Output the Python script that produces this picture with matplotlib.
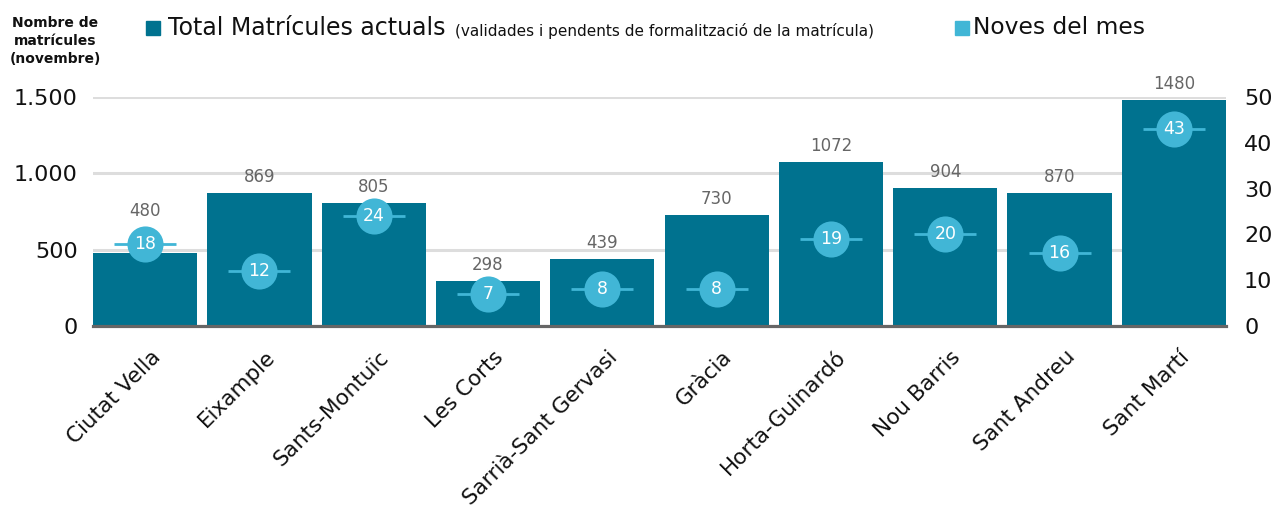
import matplotlib
matplotlib.use("Agg")
import matplotlib.pyplot as plt
import matplotlib.transforms as mtransforms
from matplotlib.lines import Line2D

plt.rcParams['font.family'] = ['DejaVu Sans']

districtes = ['Ciutat Vella', 'Eixample', 'Sants-Montuïc', 'Les Corts',
              'Sarrià-Sant Gervasi', 'Gràcia', 'Horta-Guinardó', 'Nou Barris',
              'Sant Andreu', 'Sant Martí']
total_matricules = [480, 869, 805, 298, 439, 730, 1072, 904, 870, 1480]
noves_mes = [18, 12, 24, 7, 8, 8, 19, 20, 16, 43]
left_ticks = [0, 500, 1000, 1500]
left_labels = ['0', '500', '1.000', '1.500']
right_ticks = [0, 10, 20, 30, 40, 50]

BAR = '#00728f'
DOT = '#41b6d6'

W, H = 1276, 516
fig = plt.figure(figsize=(W / 100, H / 100), dpi=100)
ax = fig.add_axes([93 / W, 1 - 326 / H, (1226 - 93) / W, (326 - 97) / H])

x = list(range(len(districtes)))
bw = 104 / 114
ax.bar(x, total_matricules, width=bw, color=BAR, zorder=2)
ax.set_xlim(-bw / 2, len(x) - 1 + bw / 2)
ax.set_ylim(0, 1500)

for s in ax.spines.values():
    s.set_visible(False)
ax.set_yticks(left_ticks)
ax.set_yticklabels(left_labels)
ax.tick_params(axis='y', length=0, pad=11, labelsize=16, labelcolor='#111111')
ax.grid(axis='y', color='#dddddd', linewidth=2.2, zorder=0)
ax.axhline(0, color='#666666', linewidth=2.3, zorder=3, clip_on=False)
ax.set_axisbelow(True)

ax.set_xticks(x)
ax.set_xticklabels(districtes, rotation=45, ha='right', va='top',
                   rotation_mode='anchor', fontsize=15.5, color='#111111')
ax.tick_params(axis='x', length=0, pad=15)
shift = mtransforms.ScaledTranslation(5 / 100, 0, fig.dpi_scale_trans)
for lab in ax.get_xticklabels():
    lab.set_transform(lab.get_transform() + shift)

ax2 = ax.twinx()
ax2.set_ylim(0, 50)
ax2.set_yticks(right_ticks)
ax2.tick_params(axis='y', length=0, pad=13, labelsize=16, labelcolor='#111111')
for s in ax2.spines.values():
    s.set_visible(False)
ax2.plot(x, noves_mes, linestyle='none', marker='_', markersize=44,
         markeredgewidth=2, color=DOT, zorder=4)
ax2.plot(x, noves_mes, linestyle='none', marker='o', markersize=26,
         color=DOT, markeredgewidth=0, zorder=5)
for xi, v in zip(x, noves_mes):
    ax2.text(xi, v, str(v), ha='center', va='center', fontsize=12.5,
             color='white', zorder=6)

# etiquetes de valor: si el cercle queda per sobre de la barra, la pujem
for xi, v, n in zip(x, total_matricules, noves_mes):
    if n * 30 > v:
        ax2.annotate(str(v), (xi, n), xytext=(0, 17), textcoords='offset points',
                     ha='center', va='bottom', fontsize=12, color='#666666',
                     annotation_clip=False, zorder=7)
    else:
        ax2.annotate(str(v), (xi, v / 30), xytext=(0, 5), textcoords='offset points',
                     ha='center', va='bottom', fontsize=12, color='#666666',
                     annotation_clip=False, zorder=7)

fig.text(55 / W, 1 - 41 / H, 'Nombre de\nmatrícules\n(novembre)', ha='center',
         va='center', fontsize=10, fontweight='bold', color='#111111',
         linespacing=1.4)

fig.add_artist(Line2D([153 / W], [1 - 28 / H], marker='s', markersize=10,
                      color=BAR, linestyle='none', transform=fig.transFigure))
fig.text(168 / W, 1 - 28 / H, 'Total Matrícules actuals', ha='left',
         va='center', fontsize=17, color='#111111')
fig.text(455 / W, 1 - 31 / H,
         '(validades i pendents de formalització de la matrícula)',
         ha='left', va='center', fontsize=11, color='#111111')
fig.add_artist(Line2D([962 / W], [1 - 28 / H], marker='s', markersize=10,
                      color=DOT, linestyle='none', transform=fig.transFigure))
fig.text(973 / W, 1 - 28 / H, 'Noves del mes', ha='left', va='center',
         fontsize=16.8, color='#111111')

fig.savefig('out.png', dpi=100)
